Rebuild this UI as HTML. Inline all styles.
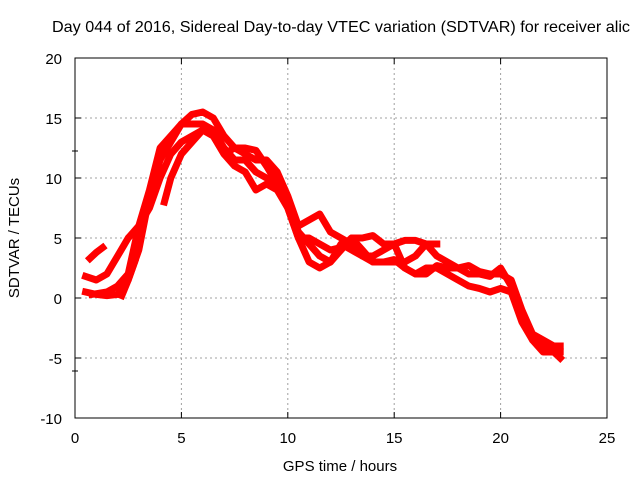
<!DOCTYPE html>
<html><head><meta charset="utf-8"><style>
html,body{margin:0;padding:0;background:#fff;overflow:hidden;}
svg{display:block;font-family:"Liberation Sans",sans-serif;}
</style></head><body>
<svg id="chart" width="640" height="480" viewBox="0 0 640 480">
<text x="52" y="32" font-size="16" textLength="578" lengthAdjust="spacingAndGlyphs" fill="#000">Day 044 of 2016, Sidereal Day-to-day VTEC variation (SDTVAR) for receiver alic</text>
<g id="grid"></g>
<g id="series"></g>
<rect x="75" y="58" width="532" height="360" fill="none" stroke="#000" stroke-width="1"/>
<g id="ticks"></g>
<text x="340" y="471" font-size="15" text-anchor="middle">GPS time / hours</text>
<text transform="translate(19,238) rotate(-90)" font-size="15" text-anchor="middle">SDTVAR / TECUs</text>
</svg>
<script>
const xTicks=[0,5,10,15,20,25];
const yTicks=[-10,-5,0,5,10,15,20];
const s1t=[0.5,1,1.5,2,2.5,3,3.5,4,4.5,5,5.5,6,6.5,7,7.5,8,8.5,9,9.5,10,10.5,11,11.5,12,12.5,13,13.5,14,14.5,15,15.5,16,16.5,17];
const s1v=[0.5,0.3,0.2,0.3,1.5,4,8.5,11.5,13,14.5,15.3,15.5,15,13.5,12.5,12.5,12.3,11,9.5,8,5.5,4.5,3.5,3,4,5,5,5.2,4.5,4.5,4.8,4.8,4.5,4.5];
const s2t=[0.5,1,1.5,2,2.5,3,3.5,4,4.5,5,5.5,6,6.5,7,7.5,8,8.5,9,9.5,10,10.5,11,11.5,12,12.5,13,13.5,14,14.5,15,15.5,16,16.5,17,17.5,18,18.5,19,19.5,20,20.5,21,21.5,22,22.5,22.8];
const s2v=[1.8,1.5,2,3.5,5,6,9,12.5,13.5,14.5,14.5,14.5,14,12.5,11.5,11.5,10.5,10,9.5,7.5,5,5,4.5,4,4.2,5,4,3,3,3,3,3.5,4.5,3.5,3,2.5,2.7,2.2,2,2,1.5,-1,-3,-3.5,-4,-4];
const s3t=[0.8,1.5,2,2.5,3,3.5,4,4.5,5,5.5,6,6.5,7,7.5,8,8.5,9,9.5,10,10.5,11,11.5,12,12.5,13,13.5,14,14.5,15,15.5,16,16.5,17,17.5,18,18.5,19,19.5,20,20.5,21,21.5,22,22.5,22.8];
const s3v=[0.3,0.5,1,2,6,7.5,10,12,13,13.5,14,13.5,12,12.5,12,11.5,11.5,10.5,8.5,6,6.5,7,5.5,5,4.5,3.5,3.5,4,4.5,2.5,2,2.5,2.5,2,1.5,1,0.8,0.5,0.8,0.5,-2,-3.5,-4.5,-4.5,-4.5];
const s4t=[4.2,4.5,5,5.5,6,6.5,7,7.5,8,8.5,9,9.5,10,10.5,11,11.5,12,12.5,13,13.5,14,14.5,15,15.5,16,16.5,17,17.5,18,18.5,19,19.5,20,20.5,21,21.5,22,22.5,22.8];
const s4v=[8,10,12,13,14,13.5,12,11,10.5,9,9.5,9,7.5,5,3,2.5,3,4.5,4,3.5,3,3,3.2,2.5,2,2,2.7,2.5,2.5,2,2,1.8,2.5,1,-1.5,-3.5,-4,-4.5,-5];
const s5t=[0.7,1,1.3];
const s5v=[3.3,3.8,4.2];
const s6t=[2.2,2.5,2.8];
const s6v=[0.2,1.5,3];
const X=t=>75+t*532/25;
const Y=v=>298-v*12;
const NS="http://www.w3.org/2000/svg";
const grid=document.getElementById('grid'),ticks=document.getElementById('ticks'),ser=document.getElementById('series');
function mk(tag,attrs,parent){const e=document.createElementNS(NS,tag);for(const k in attrs)e.setAttribute(k,attrs[k]);parent.appendChild(e);return e;}
xTicks.forEach(t=>{
  if(t>0&&t<25){const g=mk('line',{x1:X(t),x2:X(t),y1:58,y2:418,stroke:'#a0a0a0','stroke-dasharray':'2,3'},grid);
  
  }
  const l=mk('text',{x:X(t),y:443,'font-size':15,'text-anchor':'middle'},ticks);l.textContent=t;
  
  
  mk('line',{x1:X(t),x2:X(t),y1:418,y2:412,stroke:'#000'},ticks);
  mk('line',{x1:X(t),x2:X(t),y1:58,y2:64,stroke:'#000'},ticks);
});
yTicks.forEach(v=>{
  if(v>-10&&v<20){const g=mk('line',{x1:75,x2:607,y1:Y(v),y2:Y(v),stroke:'#a0a0a0','stroke-dasharray':'2,3'},grid);
  
  }
  const l=mk('text',{x:62,y:Y(v)+6,'font-size':15,'text-anchor':'end'},ticks);l.textContent=v;
  
  
  mk('line',{x1:75,x2:81,y1:Y(v),y2:Y(v),stroke:'#000'},ticks);
  mk('line',{x1:607,x2:601,y1:Y(v),y2:Y(v),stroke:'#000'},ticks);
});
[[72,151],[72,371]].forEach(p=>mk('line',{x1:p[0],x2:p[0]+6,y1:p[1],y2:p[1],stroke:'#000'},ticks));
[[s1t,s1v],[s2t,s2v],[s3t,s3v],[s4t,s4v],[s5t,s5v],[s6t,s6v]].forEach((s,i)=>{
  const pts=s[0].map((t,j)=>X(t).toFixed(1)+','+Y(s[1][j]).toFixed(1)).join(' ');
  const p=mk('polyline',{points:pts,fill:'none',stroke:'#ff0000','stroke-width':7,'stroke-linejoin':'round','stroke-linecap':'square'},ser);
  
  
});
</script>
</body></html>
